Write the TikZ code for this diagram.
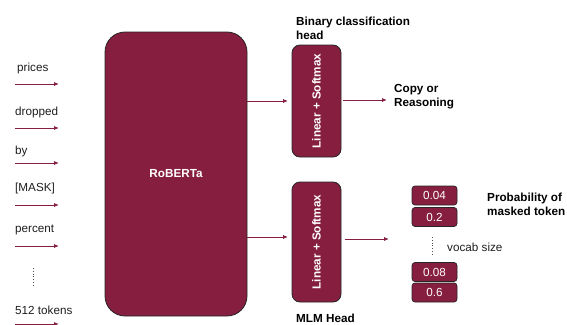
\documentclass[tikz,border=0pt]{standalone}
\usepackage{fontspec}
\setmainfont{Liberation Sans}
\usetikzlibrary{arrows.meta}
\definecolor{maroon}{RGB}{134,30,64}
\definecolor{ink}{RGB}{30,30,30}
\tikzset{
  box/.style={draw=black!85, line width=0.8pt, fill=maroon, text=white, font=\bfseries\fontsize{11.7}{14}\selectfont, inner sep=0pt},
  probbox/.style={draw=black!85, line width=0.7pt, fill=maroon, text=white, rounded corners=3pt, minimum width=45pt, minimum height=19pt, inner sep=0pt, font=\fontsize{11.7}{14}\selectfont},
  tok/.style={anchor=west, inner sep=0pt, text=ink, font=\fontsize{11.7}{14}\selectfont},
  lbl/.style={anchor=west, inner sep=0pt, align=left, text=black, font=\bfseries\fontsize{11.7}{14}\selectfont},
  arr/.style={draw=maroon, line width=0.8pt, -{Latex[length=5pt,width=4pt]}},
  dotline/.style={draw=black!70, line width=0.8pt, dotted}
}
\begin{document}
\begin{tikzpicture}[x=1pt,y=-1pt]
\useasboundingbox (0,0) rectangle (567,324);
% RoBERTa
\node[box, rounded corners=20pt, minimum width=142pt, minimum height=284pt] (rob) at (176,174) {RoBERTa};
% tokens
\node[tok] (t1) at (17,68) {prices};
\node[tok] (t2) at (15,112) {dropped};
\node[tok] (t3) at (15,151) {by};
\node[tok] (t4) at (15,188) {[MASK]};
\node[tok] (t5) at (15,230) {percent};
\node[tok] (t6) at (15,310) {512 tokens};
\foreach \i/\y in {1/84,2/128,3/163,4/205,5/246,6/324}{
  \coordinate (a\i s) at (15,\y);
  \coordinate (a\i e) at (59,\y);
  \draw[arr] (a\i s) -- (a\i e);
}
\coordinate (d1s) at (33,268);
\coordinate (d1e) at (33,285);
\draw[dotline] (d1s) -- (d1e);
% heads
\node[box, rounded corners=8pt, minimum width=49pt, minimum height=112pt] (h1) at (316.5,101) {\rotatebox{90}{Linear + Softmax}};
\node[box, rounded corners=8pt, minimum width=49pt, minimum height=120pt] (h2) at (316.5,242) {\rotatebox{90}{Linear + Softmax}};
\node[lbl] (bch) at (296,28) {Binary classification\\head};
\node[lbl] (mlm) at (296,318) {MLM Head};
% roberta to heads
\coordinate (r1) at (247,101);
\coordinate (r2) at (247,237);
\coordinate (r1e) at (288,101);
\coordinate (r2e) at (288,237);
\draw[arr] (r1) -- (r1e);
\draw[arr] (r2) -- (r2e);
% outputs
\node[lbl] (copy) at (394,96.5) {Copy or\\Reasoning};
\coordinate (h1o) at (343,100);
\coordinate (h1e) at (387,100);
\draw[arr] (h1o) -- (h1e);
\coordinate (h2o) at (345,239);
\coordinate (h2e) at (389,239);
\draw[arr] (h2o) -- (h2e);
% prob boxes
\node[probbox] (p1) at (434.5,195.5) {0.04};
\node[probbox] (p2) at (434.5,217) {0.2};
\node[probbox] (p3) at (434.5,272) {0.08};
\node[probbox] (p4) at (434.5,292.5) {0.6};
\coordinate (d2s) at (432,237);
\coordinate (d2e) at (432,255);
\draw[dotline] (d2s) -- (d2e);
\node[tok] (voc) at (447,247) {vocab size};
\node[lbl] (prob) at (487,204.5) {Probability of\\masked token};
\end{tikzpicture}
\end{document}
